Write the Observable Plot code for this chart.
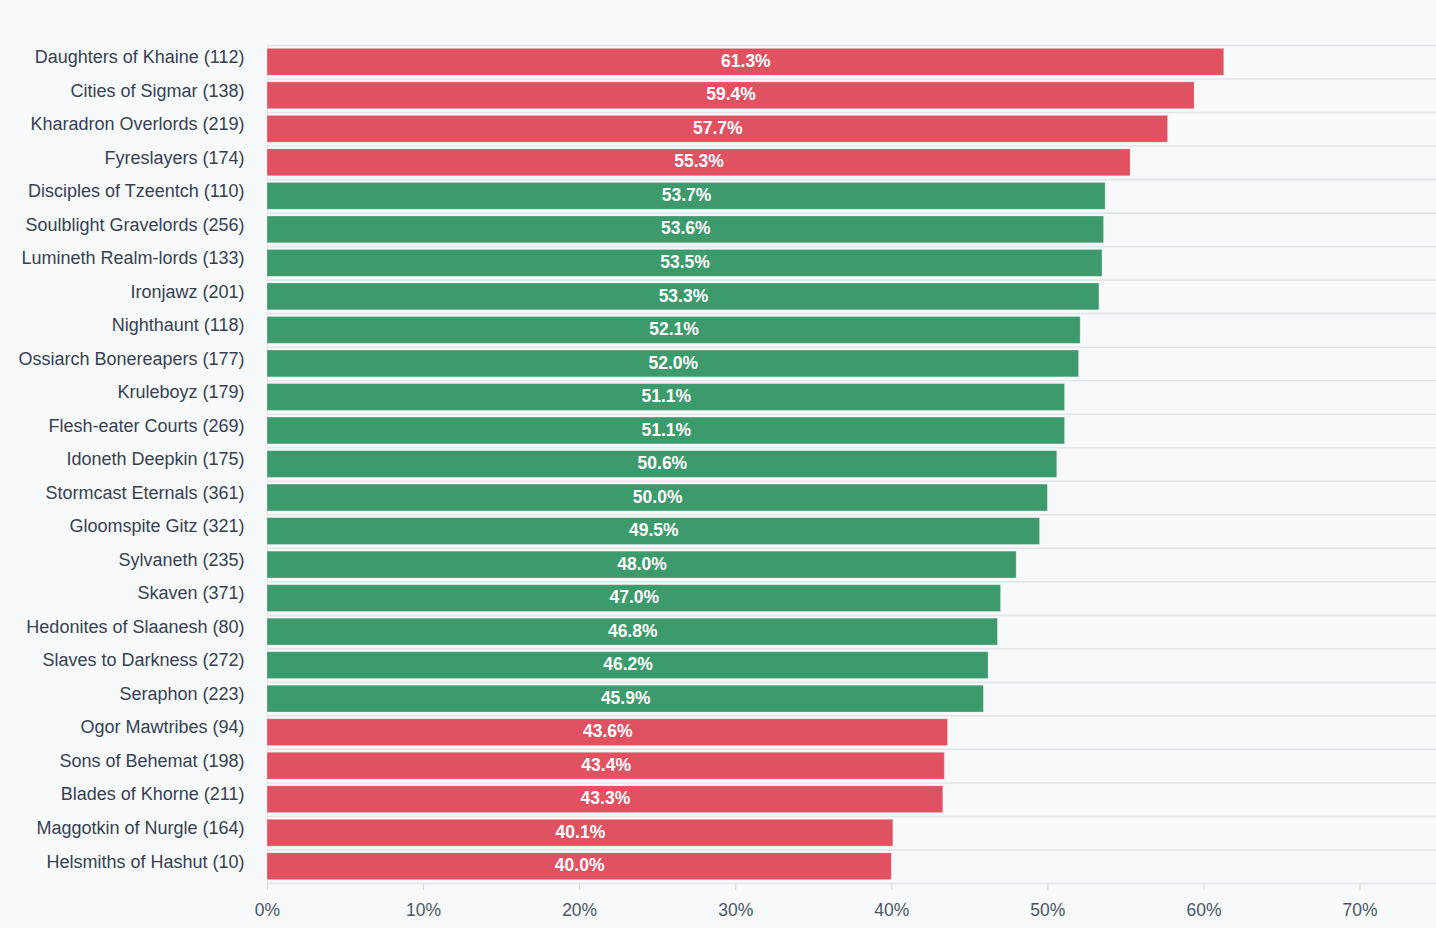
<!DOCTYPE html>
<html>
<head>
<meta charset="utf-8">
<script src="https://cdn.jsdelivr.net/npm/d3@7"></script>
<script src="https://cdn.jsdelivr.net/npm/@observablehq/plot@0.6"></script>
<style>
  html, body { margin: 0; padding: 0; background: #f8f9fb; }
  #chart svg { display: block; }
</style>
</head>
<body>
<div id="chart"></div>
<script>
const factions = [
  "Daughters of Khaine", "Cities of Sigmar", "Kharadron Overlords", "Fyreslayers",
  "Disciples of Tzeentch", "Soulblight Gravelords", "Lumineth Realm-lords", "Ironjawz",
  "Nighthaunt", "Ossiarch Bonereapers", "Kruleboyz", "Flesh-eater Courts",
  "Idoneth Deepkin", "Stormcast Eternals", "Gloomspite Gitz", "Sylvaneth",
  "Skaven", "Hedonites of Slaanesh", "Slaves to Darkness", "Seraphon",
  "Ogor Mawtribes", "Sons of Behemat", "Blades of Khorne", "Maggotkin of Nurgle",
  "Helsmiths of Hashut"
];
const games = [112, 138, 219, 174, 110, 256, 133, 201, 118, 177, 179, 269, 175, 361, 321, 235, 371, 80, 272, 223, 94, 198, 211, 164, 10];
const winRates = [61.3, 59.4, 57.7, 55.3, 53.7, 53.6, 53.5, 53.3, 52.1, 52.0, 51.1, 51.1, 50.6, 50.0, 49.5, 48.0, 47.0, 46.8, 46.2, 45.9, 43.6, 43.4, 43.3, 40.1, 40.0];
const xTicks = [0, 10, 20, 30, 40, 50, 60, 70];

const data = factions.map((f, i) => ({
  label: `${f} (${games[i]})`,
  rate: winRates[i],
  outlier: winRates[i] > 55 || winRates[i] < 45
}));
const labels = data.map(d => d.label);

const W = 1436, H = 928, mt = 45, mb = 45;
const step = (H - mt - mb) / labels.length;

const chart = Plot.plot({
  width: W,
  height: H,
  marginTop: mt,
  marginBottom: mb,
  marginLeft: 267,
  marginRight: 0,
  style: { background: "#f8f9fb", fontFamily: "'Liberation Sans', Arial, sans-serif", overflow: "visible" },
  x: { domain: [0, 74.9], round: false, label: null },
  y: { domain: labels, paddingInner: 0.2, paddingOuter: 0.1, round: false, label: null },
  marks: [
    Plot.ruleY(labels, { y: d => d, dy: -step / 2, stroke: "#e3e5e9", strokeWidth: 1.6 }),
    Plot.ruleY([labels[labels.length - 1]], { y: d => d, dy: step / 2, stroke: "#e3e5e9", strokeWidth: 1.6 }),
    Plot.ruleX([0], { stroke: "#e3e5e9", strokeWidth: 1 }),
    Plot.barX(data, {
      y: "label", x: "rate",
      fill: d => d.outlier ? "#e05262" : "#3d9a6c",
      stroke: "#ffffff", strokeOpacity: 0.25, strokeWidth: 1
    }),
    Plot.text(data, {
      y: "label", x: d => d.rate / 2, text: d => d.rate.toFixed(1) + "%",
      fill: "white", fontWeight: "bold", fontSize: 17.5, dy: -1
    }),
    Plot.axisX({ ticks: xTicks, tickFormat: d => d + "%", tickSize: 7, tickPadding: 13, fontSize: 17.5, color: "#4b5563", stroke: "#d5d8dd", label: null }),
    Plot.axisY({ tickSize: 0, tickPadding: 23, fontSize: 18, color: "#374151", dy: -5, label: null })
  ]
});
document.getElementById("chart").appendChild(chart);
</script>
</body>
</html>
